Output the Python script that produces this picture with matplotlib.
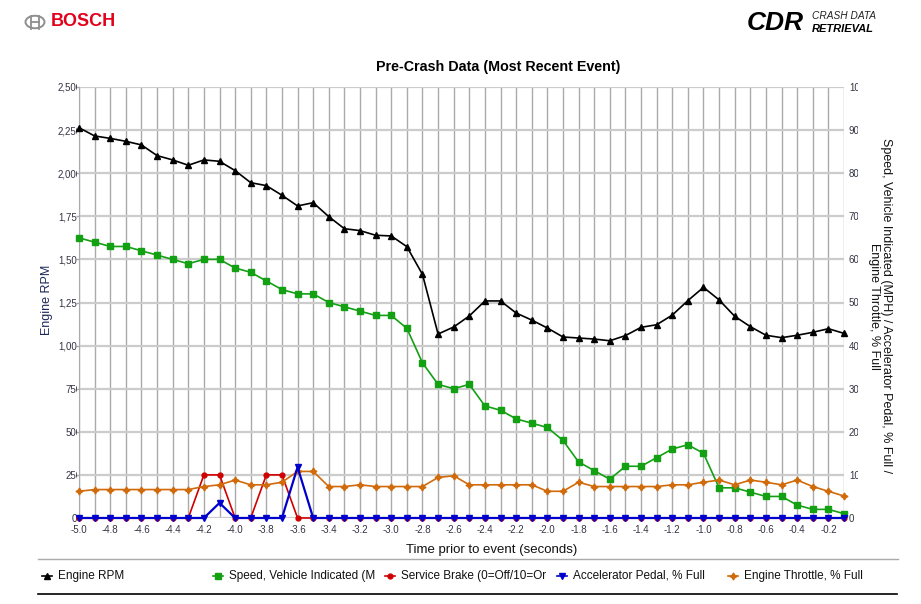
import matplotlib
matplotlib.use('Agg')  # no display in the sandbox
import matplotlib.pyplot as plt
from matplotlib.lines import Line2D
from matplotlib.patches import Circle
from matplotlib.transforms import Bbox, TransformedBbox

plt.rcParams['font.family'] = ['Liberation Sans', 'DejaVu Sans']

# time axis, seconds prior to event
time = [-5.0, -4.9, -4.8, -4.7, -4.6, -4.5, -4.4, -4.3, -4.2, -4.1,
        -4.0, -3.9, -3.8, -3.7, -3.6, -3.5, -3.4, -3.3, -3.2, -3.1,
        -3.0, -2.9, -2.8, -2.7, -2.6, -2.5, -2.4, -2.3, -2.2, -2.1,
        -2.0, -1.9, -1.8, -1.7, -1.6, -1.5, -1.4, -1.3, -1.2, -1.1,
        -1.0, -0.9, -0.8, -0.7, -0.6, -0.5, -0.4, -0.3, -0.2, -0.1]

engine_rpm = [2264, 2216, 2202, 2185, 2164, 2102, 2077, 2046, 2077, 2069,
              2015, 1945, 1928, 1872, 1810, 1829, 1748, 1678, 1667, 1640,
              1636, 1574, 1413, 1067, 1108, 1172, 1259, 1259, 1189, 1148,
              1102, 1050, 1044, 1038, 1028, 1058, 1106, 1121, 1177, 1261,
              1338, 1265, 1170, 1110, 1060, 1046, 1060, 1077, 1098, 1071]

speed_mph = [65, 64, 63, 63, 62, 61, 60, 59, 60, 60,
             58, 57, 55, 53, 52, 52, 50, 49, 48, 47,
             47, 44, 36, 31, 30, 31, 26, 25, 23, 22,
             21, 18, 13, 11, 9, 12, 12, 14, 16, 17,
             15, 7, 7, 6, 5, 5, 3, 2, 2, 1]

service_brake = [0, 0, 0, 0, 0, 0, 0, 0, 10, 10,
                 0, 0, 10, 10, 0, 0, 0, 0, 0, 0,
                 0, 0, 0, 0, 0, 0, 0, 0, 0, 0,
                 0, 0, 0, 0, 0, 0, 0, 0, 0, 0,
                 0, 0, 0, 0, 0, 0, 0, 0, 0, 0]

accel_pedal = [0, 0, 0, 0, 0, 0, 0, 0, 0, 3.5,
               0, 0, 0, 0, 11.8, 0, 0, 0, 0, 0,
               0, 0, 0, 0, 0, 0, 0, 0, 0, 0,
               0, 0, 0, 0, 0, 0, 0, 0, 0, 0,
               0, 0, 0, 0, 0, 0, 0, 0, 0, 0]

throttle = [6.2, 6.6, 6.6, 6.6, 6.6, 6.6, 6.6, 6.6, 7.3, 7.7,
            8.8, 7.7, 7.7, 8.3, 10.8, 10.8, 7.3, 7.3, 7.7, 7.3,
            7.3, 7.3, 7.3, 9.4, 9.8, 7.7, 7.7, 7.7, 7.7, 7.7,
            6.2, 6.2, 8.3, 7.3, 7.3, 7.3, 7.3, 7.3, 7.7, 7.7,
            8.3, 8.8, 7.7, 8.8, 8.3, 7.7, 8.8, 7.3, 6.2, 5.1]

rpm_ticks = [0, 250, 500, 750, 1000, 1250, 1500, 1750, 2000, 2250, 2500]
rpm_labels = ['0', '250', '500', '750', '1,000', '1,250', '1,500', '1,750',
              '2,000', '2,250', '2,500']
pct_ticks = [0, 10, 20, 30, 40, 50, 60, 70, 80, 90, 100]
x_major = time[::2]

legend_names = ['Engine RPM', 'Speed, Vehicle Indicated (M',
                'Service Brake (0=Off/10=Or', 'Accelerator Pedal, % Full',
                'Engine Throttle, % Full']

W, H = 921, 604
fig = plt.figure(figsize=(W / 100, H / 100), dpi=100)


def fx(px):
    return px / W


def fy(py):
    return 1 - py / H


ax = fig.add_axes([fx(79), fy(518), fx(844) - fx(79), fy(87) - fy(518)])
ax2 = ax.twinx()

tick_col = '#333344'
ax.set_xlim(-5.0, -0.1)
ax.set_ylim(0, 2500)
ax2.set_ylim(0, 100)

ax.set_xticks(x_major)
ax.set_xticklabels([f'{t:.1f}' for t in x_major])
ax.set_xticks(time, minor=True)
ax.set_yticks(rpm_ticks)
ax.set_yticklabels(rpm_labels)
ax2.set_yticks(pct_ticks)
ax2.set_yticklabels([str(v) for v in pct_ticks])

ax.tick_params(axis='x', which='both', length=0, pad=5, labelsize=7,
               labelcolor=tick_col)
ax.tick_params(axis='y', length=2, width=1, color='#aaaaaa', pad=-4.2,
               labelsize=7, labelcolor=tick_col)
ax2.tick_params(axis='y', length=0, pad=3.5, labelsize=7,
                labelcolor=tick_col)

ax.xaxis.grid(True, which='both', color='#aaaaaa', lw=1.0)
ax.yaxis.grid(True, color='#cccccc', lw=1.6)
ax.set_axisbelow(True)
for s in ['top', 'right', 'bottom']:
    ax.spines[s].set_visible(False)
ax.spines['left'].set_color('#aaaaaa')
for s in ax2.spines.values():
    s.set_visible(False)

# series
rpm_line, = ax.plot(time, engine_rpm, color='black', lw=1.2, marker='^',
                    ms=4.5, clip_on=False, zorder=3)
spd_line, = ax2.plot(time, speed_mph, color='#13a013', lw=1.2, marker='s',
                     ms=3.8, clip_on=False, zorder=3)
brk_line, = ax2.plot(time, service_brake, color='#d00000', lw=1.2, marker='o',
                     ms=3.5, clip_on=False, zorder=4)
ped_line, = ax2.plot(time, accel_pedal, color='#0000cc', lw=1.6, marker='v',
                     ms=4, clip_on=False, zorder=5)
thr_line, = ax2.plot(time, throttle, color='#d06a0a', lw=1.2, marker=(4, 1, 0),
                     ms=5, clip_on=False, zorder=4)

# titles and axis names
fig.text(fx(498), fy(67), 'Pre-Crash Data (Most Recent Event)',
         weight='bold', fontsize=10.3, ha='center', va='center')
fig.text(fx(492), fy(550), 'Time prior to event (seconds)', fontsize=9.5,
         ha='center', va='center', color='#111111')
fig.text(fx(47), fy(300), 'Engine RPM', rotation=90, fontsize=9,
         ha='center', va='center', color='#1c2858')
fig.text(fx(880), fy(306),
         'Speed, Vehicle Indicated (MPH) / Accelerator Pedal, % Full /\n'
         'Engine Throttle, % Full', rotation=-90, fontsize=9,
         ha='center', va='center', multialignment='center',
         linespacing=0.95, color='#111111')

# header logos
bosch_ring = Circle((fx(35), fy(22)), 9.5 / W, transform=fig.transFigure,
                    fill=False, ec='#8f8f8f', lw=1.4)
fig.add_artist(bosch_ring)
for xx in (31, 39):
    fig.add_artist(Line2D([fx(xx), fx(xx)], [fy(15.5), fy(28.5)],
                          color='#8f8f8f', lw=1.3, transform=fig.transFigure))
fig.add_artist(Line2D([fx(31), fx(39)], [fy(22), fy(22)], color='#8f8f8f',
                      lw=1.3, transform=fig.transFigure))
fig.text(fx(51), fy(22), 'BOSCH', color='#e2001a', weight='bold', fontsize=13,
         ha='left', va='center')
fig.text(fx(747), fy(23), 'CDR', weight='heavy', style='italic', fontsize=19,
         ha='left', va='center', color='black')
fig.text(fx(812), fy(16), 'CRASH DATA', style='italic', fontsize=7.3,
         ha='left', va='center', color='#222222')
fig.text(fx(812), fy(29), 'RETRIEVAL', style='italic', weight='bold',
         fontsize=8, ha='left', va='center', color='black')

# legend strip at the bottom
fig.add_artist(Line2D([fx(38), fx(898)], [fy(559), fy(559)], color='#aaaaaa',
                      lw=1.0, transform=fig.transFigure))
fig.add_artist(Line2D([fx(38), fx(897)], [fy(594), fy(594)], color='black',
                      lw=1.2, transform=fig.transFigure))
legend_x = [47, 218, 390, 562, 733]
handles = [rpm_line, spd_line, brk_line, ped_line, thr_line]
for x0, name, h in zip(legend_x, legend_names, handles):
    fig.add_artist(Line2D([fx(x0 - 5), fx(x0 + 5)], [fy(576)] * 2,
                          color=h.get_color(), lw=1.2,
                          transform=fig.transFigure))
    fig.add_artist(Line2D([fx(x0)], [fy(576)], color=h.get_color(),
                          marker=h.get_marker(), ms=h.get_markersize(),
                          transform=fig.transFigure))
    fig.text(fx(x0 + 11), fy(576), name, fontsize=8.5, ha='left',
             va='center', color='#111111')

# tick labels are cut off at the axis edges, as in the source report
fig.canvas.draw()
left_clip = TransformedBbox(Bbox([[0, 0], [fx(76.5), 1]]), fig.transFigure)
right_clip = TransformedBbox(Bbox([[0, 0], [fx(857.5), 1]]), fig.transFigure)
for lab in ax.get_yticklabels():
    lab.set_clip_box(left_clip)
    lab.set_clip_on(True)
for lab in ax2.get_yticklabels():
    lab.set_clip_box(right_clip)
    lab.set_clip_on(True)
ax.get_yticklabels()[0].set_x(-0.007)

fig.savefig('out.png', dpi=100)
plt.close(fig)
